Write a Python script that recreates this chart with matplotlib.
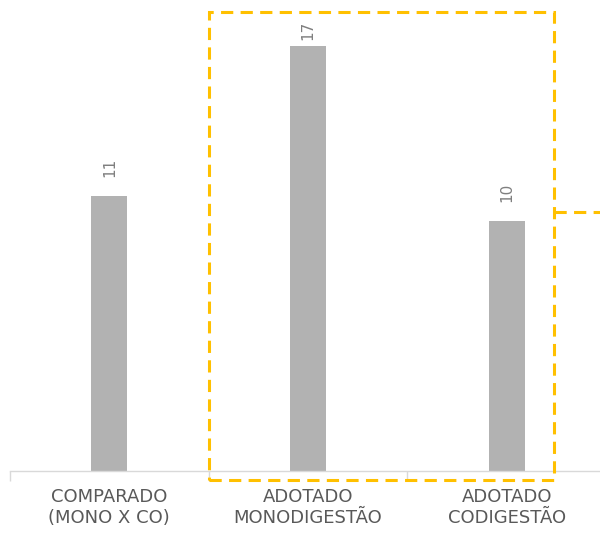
import matplotlib.pyplot as plt
from matplotlib.patches import Rectangle

# data
categories = ['COMPARADO\n(MONO X CO)', 'ADOTADO\nMONODIGESTÃO', 'ADOTADO\nCODIGESTÃO']
values = [11, 17, 10]

bar_color = '#b2b2b2'
axis_color = '#d9d9d9'
text_color = '#595959'
hl_color = '#ffc000'

fig = plt.figure(figsize=(6, 5.36), dpi=100)
ax = fig.add_axes([10 / 600, 65 / 536, 596 / 600, 462.5 / 536])

x = list(range(len(categories)))
ax.bar(x, values, width=0.18, color=bar_color, zorder=2)

ax.set_xlim(-0.5, 2.5)
ax.set_ylim(0, 18.5)

# value labels, rotated like in the original; the tallest one gets squeezed
ymax = max(values)
for xi, v in zip(x, values):
    off = 14 if v < ymax else 4
    ax.annotate(str(v), (xi, v), xytext=(0, off), textcoords='offset points',
                rotation=90, ha='center', va='bottom', fontsize=11,
                color='#7f7f7f')

ax.set_yticks([])
ax.set_xticks(x)
ax.set_xticklabels(categories, fontsize=13, color=text_color,
                   linespacing=1.25)
ax.tick_params(axis='x', which='major', length=0, pad=12)
ax.set_xticks([-0.5, 0.5, 1.5, 2.5], minor=True)
ax.tick_params(axis='x', which='minor', length=7, color=axis_color, width=1)

for side in ['top', 'right', 'left']:
    ax.spines[side].set_visible(False)
ax.spines['bottom'].set_color(axis_color)
ax.spines['bottom'].set_linewidth(1)

# highlight box around the adopted scenarios
dash = (0, (4, 2.4))
box = Rectangle((0.5, -0.36), 1.74, 18.72, fill=False, edgecolor=hl_color,
                linewidth=2.2, linestyle=dash, clip_on=False, zorder=3)
ax.add_patch(box)
ax.plot([2.24, 2.6], [10.36, 10.36], color=hl_color, linewidth=2.2,
        linestyle=dash, clip_on=False, zorder=3)

fig.savefig('out.png', dpi=100)
